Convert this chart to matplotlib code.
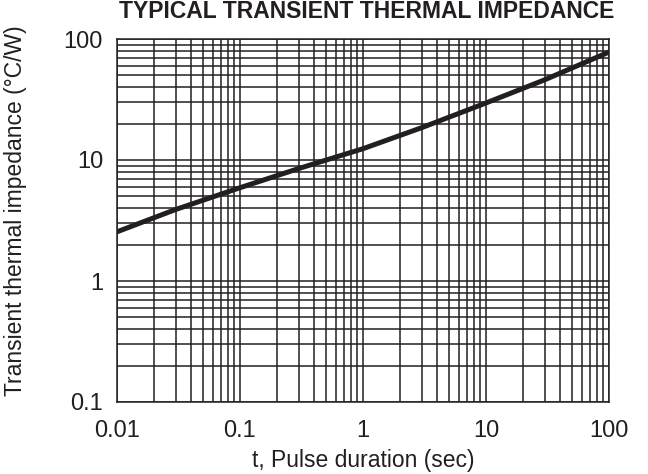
import matplotlib
matplotlib.use("Agg")
import matplotlib.pyplot as plt
from matplotlib.ticker import LogLocator, FixedLocator, NullFormatter

plt.rcParams["font.family"] = ["Liberation Sans", "DejaVu Sans"]

# values
t_sec = [0.01, 0.03, 0.1, 0.3, 1, 3, 10, 30, 100]
z_th = [2.55, 3.9, 5.9, 8.5, 12.4, 18.5, 29.6, 46, 78]

x_ticks = [0.01, 0.1, 1, 10, 100]
x_labels = ["0.01", "0.1", "1", "10", "100"]
y_ticks = [0.1, 1, 10, 100]
y_labels = ["0.1", "1", "10", "100"]

ink = "#231f20"

fig = plt.figure(figsize=(6.48, 4.74), dpi=100)
ax = fig.add_axes([117 / 648, 1 - 402 / 474, 492 / 648, 363 / 474])

ax.set_xscale("log")
ax.set_yscale("log")
ax.set_xlim(0.01, 100)
ax.set_ylim(0.1, 100)

ax.xaxis.set_major_locator(FixedLocator(x_ticks))
ax.set_xticklabels(x_labels)
ax.yaxis.set_major_locator(FixedLocator(y_ticks))
ax.set_yticklabels(y_labels)
ax.xaxis.set_minor_locator(LogLocator(base=10, subs=range(2, 10)))
ax.yaxis.set_minor_locator(LogLocator(base=10, subs=range(2, 10)))
ax.xaxis.set_minor_formatter(NullFormatter())
ax.yaxis.set_minor_formatter(NullFormatter())

ax.grid(True, which="both", color=ink, lw=1.1)
ax.tick_params(which="both", length=0, labelsize=17, colors=ink)
ax.tick_params(axis="x", pad=13)
ax.tick_params(axis="y", pad=10)
for s in ax.spines.values():
    s.set_color(ink)
    s.set_linewidth(1.1)

ax.plot(t_sec, z_th, color=ink, lw=3.6, solid_capstyle="butt", zorder=3)

ax.set_xlabel("t, Pulse duration (sec)", fontsize=16.5, color=ink, labelpad=5)
ax.set_ylabel("Transient thermal impedance (°C/W)", fontsize=16.5, color=ink)
ax.yaxis.set_label_coords(-0.183, 0.526)
fig.text(367 / 648, 1 - 0.5 / 474, "TYPICAL TRANSIENT THERMAL IMPEDANCE",
         ha="center", va="top", fontsize=16.5, fontweight="bold", color=ink)

fig.savefig("out.png", dpi=100)
